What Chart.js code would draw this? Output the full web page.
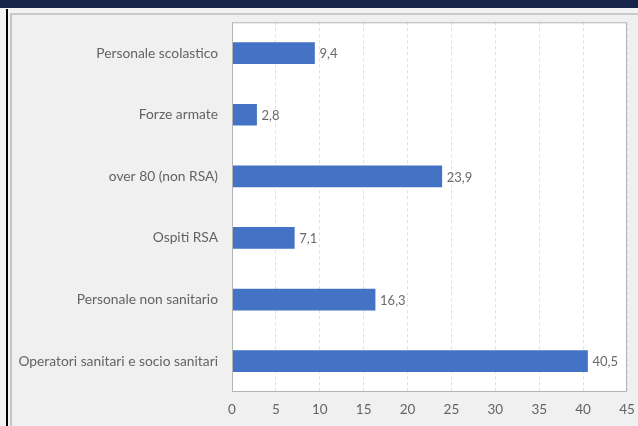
<!DOCTYPE html>
<html>
<head>
<meta charset="utf-8">
<script src="https://cdn.jsdelivr.net/npm/chart.js@4/dist/chart.umd.min.js"></script>
<style>
  html, body { margin: 0; padding: 0; background: #f2f2f2; }
  #wrap { position: relative; width: 638px; height: 426px; overflow: hidden; }
  #top { position: absolute; left: 0; top: 0; width: 638px; height: 8px; background: #16244a; }
  #edge { position: absolute; left: 6px; top: 9px; width: 2px; height: 420px; background: #000; }
  #panel { position: absolute; left: 10px; top: 13px; width: 640px; height: 430px;
           background: #f0f0f0; border-left: 2px solid #c4c4c4; border-top: 2px solid #c9c9c9; }
  #c { position: absolute; left: 0; top: 0; }
</style>
</head>
<body>
<div id="wrap">
  <div id="top"></div>
  <div id="edge"></div>
  <div id="panel"></div>
  <canvas id="c" width="638" height="426"></canvas>
</div>
<script>
const categories = [
    'Personale scolastico',
    'Forze armate',
    'over 80 (non RSA)',
    'Ospiti RSA',
    'Personale non sanitario',
    'Operatori sanitari e socio sanitari'
];
const shares = [9.4, 2.8, 23.9, 7.1, 16.3, 40.5];
const xTicks = [0, 5, 10, 15, 20, 25, 30, 35, 40, 45];

const labelFont = { family: 'Lato', size: 13.8 };
const grey = '#636363';

// white plot box with a thin grey frame
const plotBox = {
    id: 'plotBox',
    beforeDraw(chart) {
        const a = chart.chartArea, c = chart.ctx;
        c.save();
        c.fillStyle = '#ffffff';
        c.fillRect(a.left, a.top, a.right - a.left, a.bottom - a.top);
        c.restore();
    },
    afterDraw(chart) {
        const a = chart.chartArea, c = chart.ctx;
        c.save();
        c.strokeStyle = '#b4b4b4';
        c.lineWidth = 1;
        c.strokeRect(a.left + 0.5, a.top + 0.5, a.right - a.left - 1, a.bottom - a.top - 1);
        c.restore();
    }
};

// value next to each bar, with a comma decimal
const valueLabels = {
    id: 'valueLabels',
    afterDatasetsDraw(chart) {
        const c = chart.ctx;
        const meta = chart.getDatasetMeta(0);
        c.save();
        c.font = '13px ' + labelFont.family;
        c.fillStyle = '#6a6a6a';
        c.textAlign = 'left';
        c.textBaseline = 'middle';
        meta.data.forEach((bar, i) => {
            c.fillText(shares[i].toFixed(1).replace('.', ','), bar.x + 5, bar.y + 1);
        });
        c.restore();
    }
};

new Chart(document.getElementById('c'), {
    type: 'bar',
    data: {
        labels: categories,
        datasets: [{
            data: shares,
            backgroundColor: '#4472c4',
            borderWidth: 0,
            barThickness: 21
        }]
    },
    options: {
        indexAxis: 'y',
        responsive: false,
        animation: false,
        layout: { padding: { top: 22, right: 11, left: 0, bottom: 0 } },
        plugins: {
            legend: { display: false },
            tooltip: { enabled: false }
        },
        scales: {
            x: {
                min: 0,
                max: 45,
                afterBuildTicks(scale) {
                    scale.ticks = xTicks.map(v => ({ value: v }));
                },
                afterFit(scale) {
                    scale.height = 34;
                    scale.paddingLeft = 0;
                    scale.paddingRight = 0;
                },
                grid: { color: '#dedede', drawTicks: false, lineWidth: 1 },
                border: { display: false, dash: [3, 3] },
                ticks: { color: grey, font: { family: 'Lato', size: 13.5 }, padding: 10 }
            },
            y: {
                afterFit(scale) { scale.width = 232; },
                grid: { display: false, drawTicks: false },
                border: { display: false },
                ticks: { color: grey, font: labelFont, padding: 14 }
            }
        }
    },
    plugins: [plotBox, valueLabels]
});
</script>
</body>
</html>
